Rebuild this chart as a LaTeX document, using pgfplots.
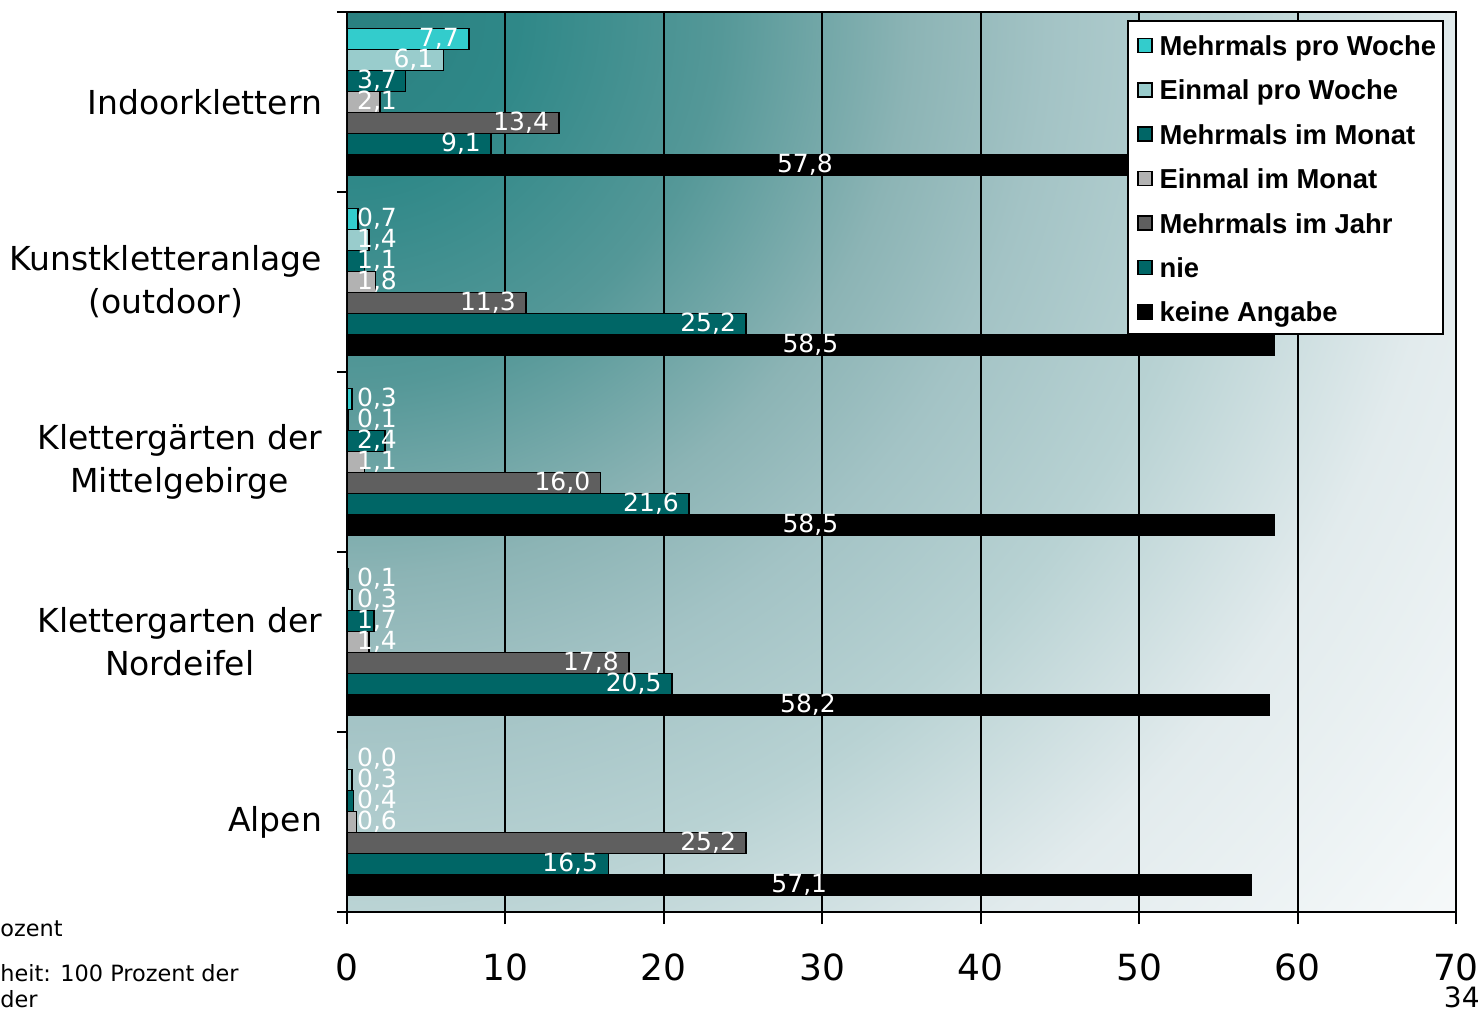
\documentclass[border=0pt]{standalone}
\usepackage{fontspec}
\setmainfont{DejaVu Sans}
\newfontfamily\legfont{Liberation Sans}
\usepackage{pgfplots}
\pgfplotsset{compat=1.18}
\definecolor{bg0}{HTML}{2A8080}
\definecolor{bg1}{HTML}{2F8888}
\definecolor{bg2}{HTML}{559898}
\definecolor{bg3}{HTML}{8CB4B5}
\definecolor{bg4}{HTML}{A3C3C5}
\definecolor{bg5}{HTML}{B8D2D3}
\definecolor{bg6}{HTML}{E2EBED}
\definecolor{bg7}{HTML}{F3F7F8}
\definecolor{s1}{HTML}{33CCCC}
\definecolor{s2}{HTML}{99CCCC}
\definecolor{s3}{HTML}{006666}
\definecolor{s4}{HTML}{B2B2B2}
\definecolor{s5}{HTML}{5F5F5F}
\definecolor{s6}{HTML}{006666}
\definecolor{s7}{HTML}{000000}
% 1bp = 34pt ; distances in px/68
\pgfdeclareradialshading{bgshade}{\pgfpoint{0bp}{0bp}}{color(0bp)=(bg0); color(2.5bp)=(bg1); color(5.5bp)=(bg2); color(8.3bp)=(bg3); color(10.3bp)=(bg4); color(13bp)=(bg5); color(16.4bp)=(bg6); color(20.3bp)=(bg7); color(24bp)=(white); color(50bp)=(white)}
\pgfplotsset{
  endlab/.style={every node near coord/.append style={anchor=east, xshift={(max(\rawx-0.6,3.2)-\rawx)*7.9214pt}}},
  midlab/.style={every node near coord/.append style={anchor=center, xshift={-0.5*\rawx*7.9214pt}}},
}
\begin{document}
\begin{tikzpicture}
\begin{scope}
\clip (0,0) rectangle (554.5pt,450pt);
\shade[shading=bgshade] (-850pt,-400pt) rectangle (850pt,1300pt);
\end{scope}
\begin{axis}[
  at={(0,0)}, anchor=south west,
  scale only axis, width=554.5pt, height=450pt,
  xbar, y dir=reverse,
  xmin=0, xmax=70, ymin=-0.5, ymax=4.5,
  xtick={0,10,...,70},
  xticklabels={0,10,20,30,40,50,60,70},
  ytick={0,1,2,3,4},
  yticklabels={Indoorklettern,{Kunstkletteranlage\\(outdoor)},{Klettergärten der\\Mittelgebirge},{Klettergarten der\\Nordeifel},Alpen},
  minor ytick={-0.5,0.5,...,4.5},
  tick pos=left, tick align=outside,
  major tick length=6pt, minor tick length=5pt,
  every major y tick/.append style={draw=none},
  tick style={black, line width=1pt},
  xmajorgrids, major grid style={black, line width=1pt},
  axis line style={black, line width=1pt},
  xticklabel style={font=\fontsize{18}{20}\selectfont, anchor=base, yshift=-28pt},
  yticklabel style={font=\fontsize{16.5}{21.5}\selectfont, align=center, xshift=-3pt},
  bar width=0.1167,
  point meta=x,
  visualization depends on={rawx \as \rawx},
  nodes near coords={\pgfmathprintnumber[use comma,fixed,fixed zerofill,precision=1,assume math mode=true]{\pgfplotspointmeta}},
  every node near coord/.append style={font=\fontsize{12.5}{14}\selectfont, text=white, inner sep=0pt},
  legend image code/.code={\path (0pt,0pt) (11.5pt,0pt); \draw[#1, line width=0.8pt] (4pt,-4.05pt) rectangle (11pt,2.95pt);},
  legend cell align=left,
  legend style={at={(0.7033,0.991)}, anchor=north west, draw=black, line width=1pt, fill=white,
    font=\legfont\bfseries\fontsize{13.7}{16}\selectfont, inner sep=0.5pt, row sep=0pt,
    nodes={inner sep=3pt, text height=13.7pt, text depth=2.5pt}},
]
\addplot[fill=s1, draw=black, line width=0.8pt, bar shift=-0.35, endlab] coordinates {(7.7,0) (0.7,1) (0.3,2) (0.1,3) (0.0,4)};
\addplot[fill=s2, draw=black, line width=0.8pt, bar shift=-0.2333, endlab] coordinates {(6.1,0) (1.4,1) (0.1,2) (0.3,3) (0.3,4)};
\addplot[fill=s3, draw=black, line width=0.8pt, bar shift=-0.1167, endlab] coordinates {(3.7,0) (1.1,1) (2.4,2) (1.7,3) (0.4,4)};
\addplot[fill=s4, draw=black, line width=0.8pt, bar shift=0, endlab] coordinates {(2.1,0) (1.8,1) (1.1,2) (1.4,3) (0.6,4)};
\addplot[fill=s5, draw=black, line width=0.8pt, bar shift=0.1167, endlab] coordinates {(13.4,0) (11.3,1) (16.0,2) (17.8,3) (25.2,4)};
\addplot[fill=s6, draw=black, line width=0.8pt, bar shift=0.2333, endlab] coordinates {(9.1,0) (25.2,1) (21.6,2) (20.5,3) (16.5,4)};
\addplot[fill=s7, draw=black, line width=0.8pt, bar shift=0.35, midlab] coordinates {(57.8,0) (58.5,1) (58.5,2) (58.2,3) (57.1,4)};
\legend{Mehrmals pro Woche, Einmal pro Woche, Mehrmals im Monat, Einmal im Monat, Mehrmals im Jahr, nie, keine Angabe}
\end{axis}
\node[anchor=base west, font=\fontsize{11.2}{13}\selectfont, inner sep=0pt] at (-173.5pt,-12pt) {ozent};
\node[anchor=base west, font=\fontsize{11.2}{13}\selectfont, inner sep=0pt] at (-173.5pt,-34.5pt) {heit: 100 Prozent der};
\node[anchor=base west, font=\fontsize{11.2}{13}\selectfont, inner sep=0pt] at (-173.5pt,-47.5pt) {der};
\node[anchor=base east, font=\fontsize{14}{16}\selectfont, inner sep=0pt] at (566.5pt,-47.5pt) {34};
\pgfresetboundingbox
\path[use as bounding box] (-173.5pt,-50.5pt) rectangle (568pt,456pt);
\end{tikzpicture}
\end{document}
